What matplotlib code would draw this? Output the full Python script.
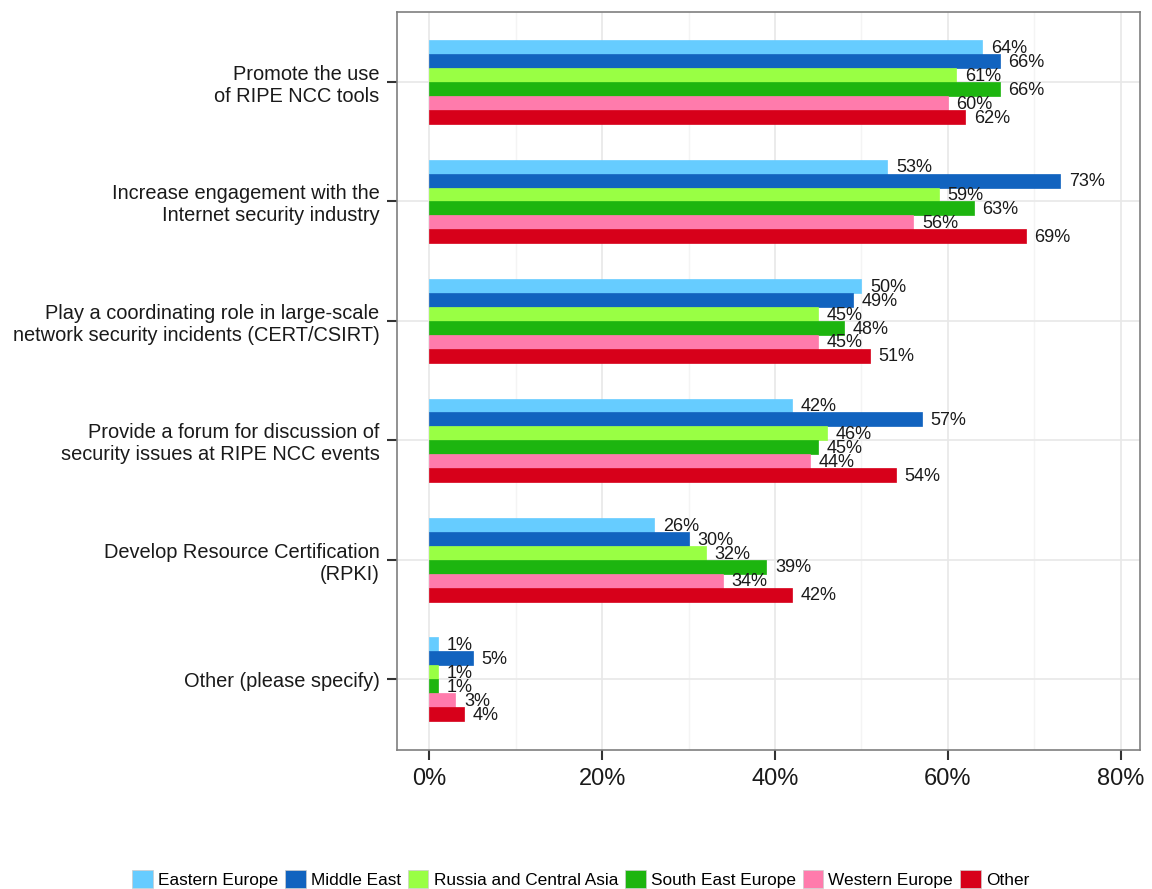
import numpy as np
import matplotlib.pyplot as plt
from matplotlib.patches import Patch

plt.rcParams['font.family'] = ['Liberation Sans', 'DejaVu Sans']

categories = [
    "Promote the use\nof RIPE NCC tools",
    "Increase engagement with the\nInternet security industry",
    "Play a coordinating role in large-scale\nnetwork security incidents (CERT/CSIRT)",
    "Provide a forum for discussion of\nsecurity issues at RIPE NCC events",
    "Develop Resource Certification\n(RPKI)",
    "Other (please specify)",
]
regions = ["Eastern Europe", "Middle East", "Russia and Central Asia",
           "South East Europe", "Western Europe", "Other"]
colors = ["#66CCFF", "#1163BF", "#99FF44", "#1DB50F", "#FF7BAC", "#D7001A"]

eastern_europe = [64, 53, 50, 42, 26, 1]
middle_east = [66, 73, 49, 57, 30, 5]
russia_central_asia = [61, 59, 45, 46, 32, 1]
south_east_europe = [66, 63, 48, 45, 39, 1]
western_europe = [60, 56, 45, 44, 34, 3]
other = [62, 69, 51, 54, 42, 4]
series = [eastern_europe, middle_east, russia_central_asia,
          south_east_europe, western_europe, other]

fig = plt.figure(figsize=(11.52, 8.89), dpi=100)
ax = fig.add_axes([0.345, 0.156, 0.645, 0.8305])

n = len(series)
total = 0.7
h = total / n
y = np.arange(len(categories))
for i, (vals, col) in enumerate(zip(series, colors)):
    pos = y - total / 2 + h * (i + 0.5)
    ax.barh(pos, vals, height=h, color=col, edgecolor=col, linewidth=0.5, zorder=3)
    for p, v in zip(pos, vals):
        ax.text(v + 1.0, p + 0.01, f"{v}%", ha='left', va='center', fontsize=13,
                color='#1a1a1a', zorder=4)

ax.set_xlim(-3.7, 82.3)
ax.set_ylim(len(categories) - 1 + 0.595, -0.586)
ax.set_xticks([0, 20, 40, 60, 80])
ax.set_xticklabels(["0%", "20%", "40%", "60%", "80%"], fontsize=17, color='#1a1a1a')
ax.set_xticks([10, 30, 50, 70], minor=True)
ax.set_yticks(y)
ax.set_yticklabels(categories, fontsize=14.4, color='#1a1a1a')
ax.tick_params(axis='both', which='major', length=7, width=1.5, color='#333333', pad=6)
ax.tick_params(axis='x', which='minor', length=0)
ax.grid(True, which='major', color='#e8e8e8', linewidth=1.2, zorder=0)
ax.grid(True, which='minor', axis='x', color='#f4f4f4', linewidth=1.0, zorder=0)
for s in ax.spines.values():
    s.set_color('#7f7f7f')
    s.set_linewidth(1.2)

handles = [Patch(facecolor=c, edgecolor='#cccccc', linewidth=0.5) for c in colors]
fig.legend(handles, regions, loc='lower center', bbox_to_anchor=(0.504, -0.016),
           ncol=6, frameon=False, fontsize=12.4, handlelength=1.2, handleheight=1.2,
           handletextpad=0.3, columnspacing=0.4)

fig.savefig("out.png", dpi=100)
